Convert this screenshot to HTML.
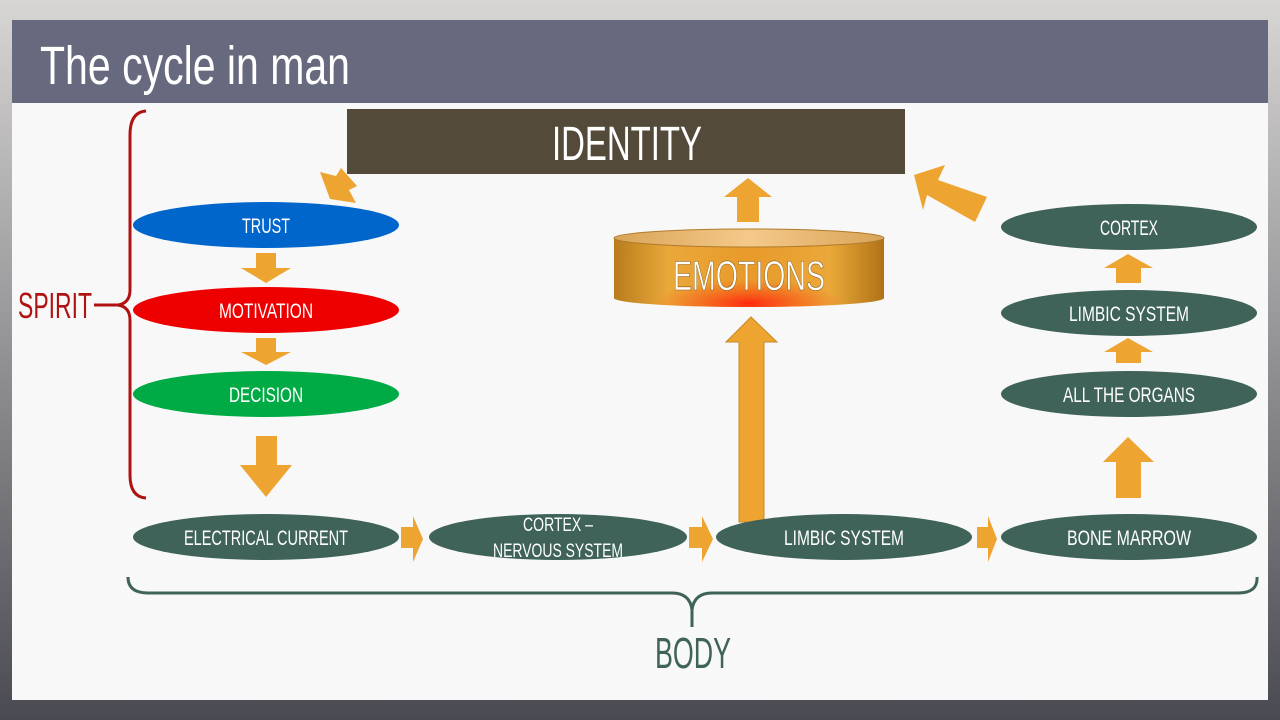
<!DOCTYPE html>
<html><head><meta charset="utf-8"><style>
html,body{margin:0;padding:0;width:1280px;height:720px;overflow:hidden;background:#7a7670}
svg{display:block}
text{font-family:"Liberation Sans Narrow","Liberation Sans",sans-serif}
</style></head><body>
<svg width="1280" height="720" viewBox="0 0 1280 720" xmlns="http://www.w3.org/2000/svg">
<defs>
<linearGradient id="bg" x1="0" y1="0" x2="0" y2="1"><stop offset="0" stop-color="#d8d6d4"/><stop offset="1" stop-color="#4a4a52"/></linearGradient>
<linearGradient id="cyl" x1="0" y1="0" x2="1" y2="0">
<stop offset="0" stop-color="#b87c1c"/><stop offset="0.2" stop-color="#eaa83a"/><stop offset="0.5" stop-color="#e89a2a"/><stop offset="0.8" stop-color="#eaa83a"/><stop offset="1" stop-color="#b07216"/></linearGradient>
<radialGradient id="hot" cx="0.5" cy="0.95" r="0.35"><stop offset="0" stop-color="#ff2a10"/><stop offset="1" stop-color="#ff5010" stop-opacity="0"/></radialGradient>
<linearGradient id="ctop" x1="0" y1="0" x2="1" y2="0"><stop offset="0" stop-color="#d9a458"/><stop offset="0.5" stop-color="#f4c98a"/><stop offset="1" stop-color="#d9a458"/></linearGradient>
</defs>
<rect width="1280" height="720" fill="url(#bg)"/>
<rect x="12" y="20" width="1256" height="680" fill="#f8f8f8"/>
<rect x="12" y="20" width="1256" height="83" fill="#676a7e"/>
<text x="40" y="84" font-size="54" fill="#fff" textLength="310" lengthAdjust="spacingAndGlyphs">The cycle in man</text>

<rect x="347" y="109" width="558" height="65" fill="#534a39"/>
<text x="627" y="160" font-size="48" fill="#fff" text-anchor="middle" textLength="150" lengthAdjust="spacingAndGlyphs">IDENTITY</text>

<!-- spirit brace -->
<path d="M146,111 Q130,112 130,135 L130,290 Q130,303 118,305 Q130,307 130,320 L130,475 Q130,497 146,498" fill="none" stroke="#b01212" stroke-width="3"/>
<line x1="94" y1="305" x2="118" y2="305" stroke="#b01212" stroke-width="3"/>
<text x="18" y="318" font-size="36" fill="#b01212" textLength="74" lengthAdjust="spacingAndGlyphs">SPIRIT</text>

<!-- body brace -->
<path d="M128,577 Q128,593 148,593 L672,593 Q690,593 692,610 L692,627 M692,610 Q694,593 712,593 L1238,593 Q1258,593 1257,577" fill="none" stroke="#3f6259" stroke-width="3"/>
<text x="693" y="668" font-size="44" fill="#3f6259" text-anchor="middle" textLength="76" lengthAdjust="spacingAndGlyphs">BODY</text>

<g fill="#eea431">
<polygon points="320,172 336,176 341,168 357,186 349,190 356,203 330,199"/>
<polygon points="256,253 276,253 276,268 291,268 266,283 241,268 256,268"/>
<polygon points="256,338 276,338 276,352 291,352 266,365 241,352 256,352"/>
<polygon points="256,436 277,436 277,465 292,465 266,497 240,465 256,465"/>
<polygon points="737,222 759,222 759,197 772,197 748,178 724,197 737,197"/>
<polygon points="914,175 945,165 938,180 987,197 975,222 927,195 923,210"/>
<polygon points="1116,283 1141,283 1141,268 1153,268 1128,254 1104,268 1116,268"/>
<polygon points="1116,363 1141,363 1141,352 1153,352 1128,338 1104,352 1116,352"/>
<polygon points="1116,498 1141,498 1141,462 1154,462 1128,437 1103,462 1116,462"/>
<polygon points="739,522 764,522 764,342 777,342 751,317 726,342 739,342" stroke="#c88a20" stroke-width="1"/>
<polygon points="401,527 413,527 413,516 423,539 413,562 413,548 401,548"/>
<polygon points="689,527 702,527 702,516 713,539 702,562 702,548 689,548"/>
<polygon points="977,527 988,527 988,516 997,539 988,562 988,548 977,548"/>
</g>

<!-- emotions cylinder -->
<path d="M614,238 L614,298 A135,9 0 0 0 884,298 L884,238 Z" fill="url(#cyl)"/>
<path d="M614,238 L614,298 A135,9 0 0 0 884,298 L884,238 Z" fill="url(#hot)"/>
<ellipse cx="749" cy="238" rx="135" ry="9" fill="url(#ctop)" stroke="#b07a2a" stroke-width="1"/>
<text x="749" y="290" font-size="42" fill="#fff" text-anchor="middle" stroke="#8a5a10" stroke-width="0.6" textLength="152" lengthAdjust="spacingAndGlyphs">EMOTIONS</text>

<g font-size="21" fill="#fff" text-anchor="middle">
<ellipse cx="266" cy="225" rx="133" ry="23" fill="#0066cc"/>
<text x="266" y="233" textLength="48" lengthAdjust="spacingAndGlyphs">TRUST</text>
<ellipse cx="266" cy="310" rx="133" ry="23" fill="#ee0000"/>
<text x="266" y="318" textLength="94" lengthAdjust="spacingAndGlyphs">MOTIVATION</text>
<ellipse cx="266" cy="394" rx="133" ry="23" fill="#00aa44"/>
<text x="266" y="402" textLength="74" lengthAdjust="spacingAndGlyphs">DECISION</text>

<g fill="#3f6259">
<ellipse cx="266" cy="537" rx="133" ry="23"/>
<ellipse cx="558" cy="537" rx="129" ry="23"/>
<ellipse cx="844" cy="537" rx="128" ry="23"/>
<ellipse cx="1129" cy="537" rx="128" ry="23"/>
<ellipse cx="1129" cy="227" rx="128" ry="23"/>
<ellipse cx="1129" cy="313" rx="128" ry="23"/>
<ellipse cx="1129" cy="394" rx="128" ry="23"/>
</g>
<text x="266" y="545" textLength="164" lengthAdjust="spacingAndGlyphs">ELECTRICAL CURRENT</text>
<text x="558" y="531" font-size="19" textLength="70" lengthAdjust="spacingAndGlyphs">CORTEX –</text>
<text x="558" y="557" font-size="19" textLength="130" lengthAdjust="spacingAndGlyphs">NERVOUS  SYSTEM</text>
<text x="844" y="545" textLength="120" lengthAdjust="spacingAndGlyphs">LIMBIC SYSTEM</text>
<text x="1129" y="545" textLength="124" lengthAdjust="spacingAndGlyphs">BONE MARROW</text>
<text x="1129" y="235" textLength="58" lengthAdjust="spacingAndGlyphs">CORTEX</text>
<text x="1129" y="321" textLength="120" lengthAdjust="spacingAndGlyphs">LIMBIC SYSTEM</text>
<text x="1129" y="402" textLength="132" lengthAdjust="spacingAndGlyphs">ALL THE ORGANS</text>
</g>
</svg>
</body></html>
